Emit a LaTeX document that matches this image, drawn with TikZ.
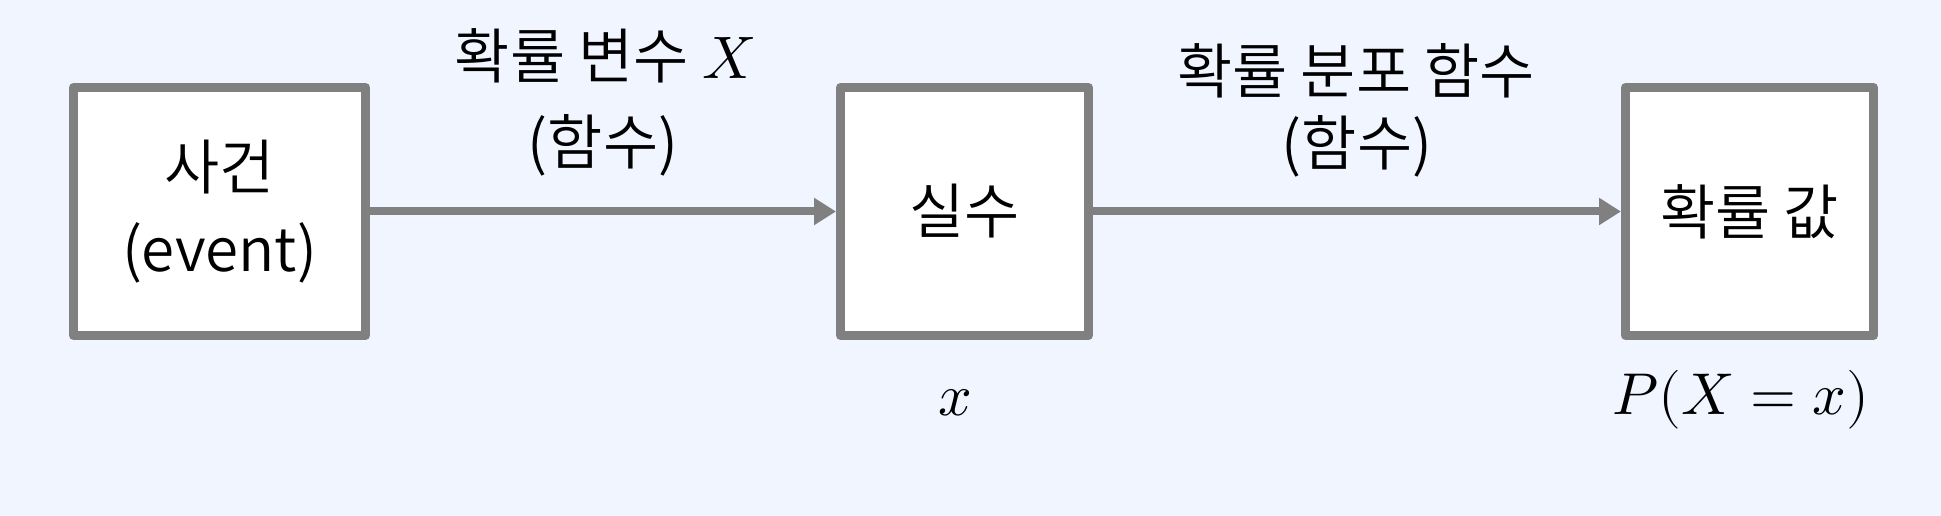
\documentclass[tikz,border=0pt]{standalone}
\usepackage{fontspec}
\usepackage{unicode-math}
\setmainfont{Noto Sans CJK KR}[UprightFont=* DemiLight]
\setmathfont{Latin Modern Math}
\usetikzlibrary{arrows.meta}
\definecolor{bg}{RGB}{240,245,255}
\definecolor{edge}{RGB}{128,128,128}
\begin{document}
\begin{tikzpicture}[x=1pt,y=1pt,
  box/.style={draw=edge, fill=white, line width=9pt, line join=round, minimum height=248pt, align=center, inner sep=0pt,
    font=\fontsize{60}{82}\selectfont},
  conn/.style={draw=edge, line width=8pt, -{Triangle[length=22pt,width=26pt]}},
  lbl/.style={font=\fontsize{60}{72}\selectfont, inner sep=0pt, align=center},
  mlbl/.style={font=\fontsize{59}{72}\selectfont, inner sep=0pt}]
\fill[bg] (0,0) rectangle (1941,516);
\useasboundingbox (0,0) rectangle (1941,516);
\node[box, minimum width=292pt] (ev) at (219.5,304.5) {사건\\(event)};
\node[box, minimum width=248pt] (re) at (964.5,304.5) {실수};
\node[box, minimum width=248pt] (pv) at (1749.5,304.5) {확률 값};
\draw[conn] (ev.east) -- (re.west);
\draw[conn] (re.east) -- (pv.west);
\node[lbl] (l1a) at (605,460) {확률 변수 $X$};
\node[lbl] (l1b) at (603,371) {(함수)};
\node[lbl] (l2a) at (1356,445) {확률 분포 함수};
\node[lbl] (l2b) at (1357,369.5) {(함수)};
\node[mlbl] (xv) at (955,113) {$x$};
\node[mlbl] (pxv) at (1741,116) {$P(X=x)$};
\end{tikzpicture}
\end{document}
